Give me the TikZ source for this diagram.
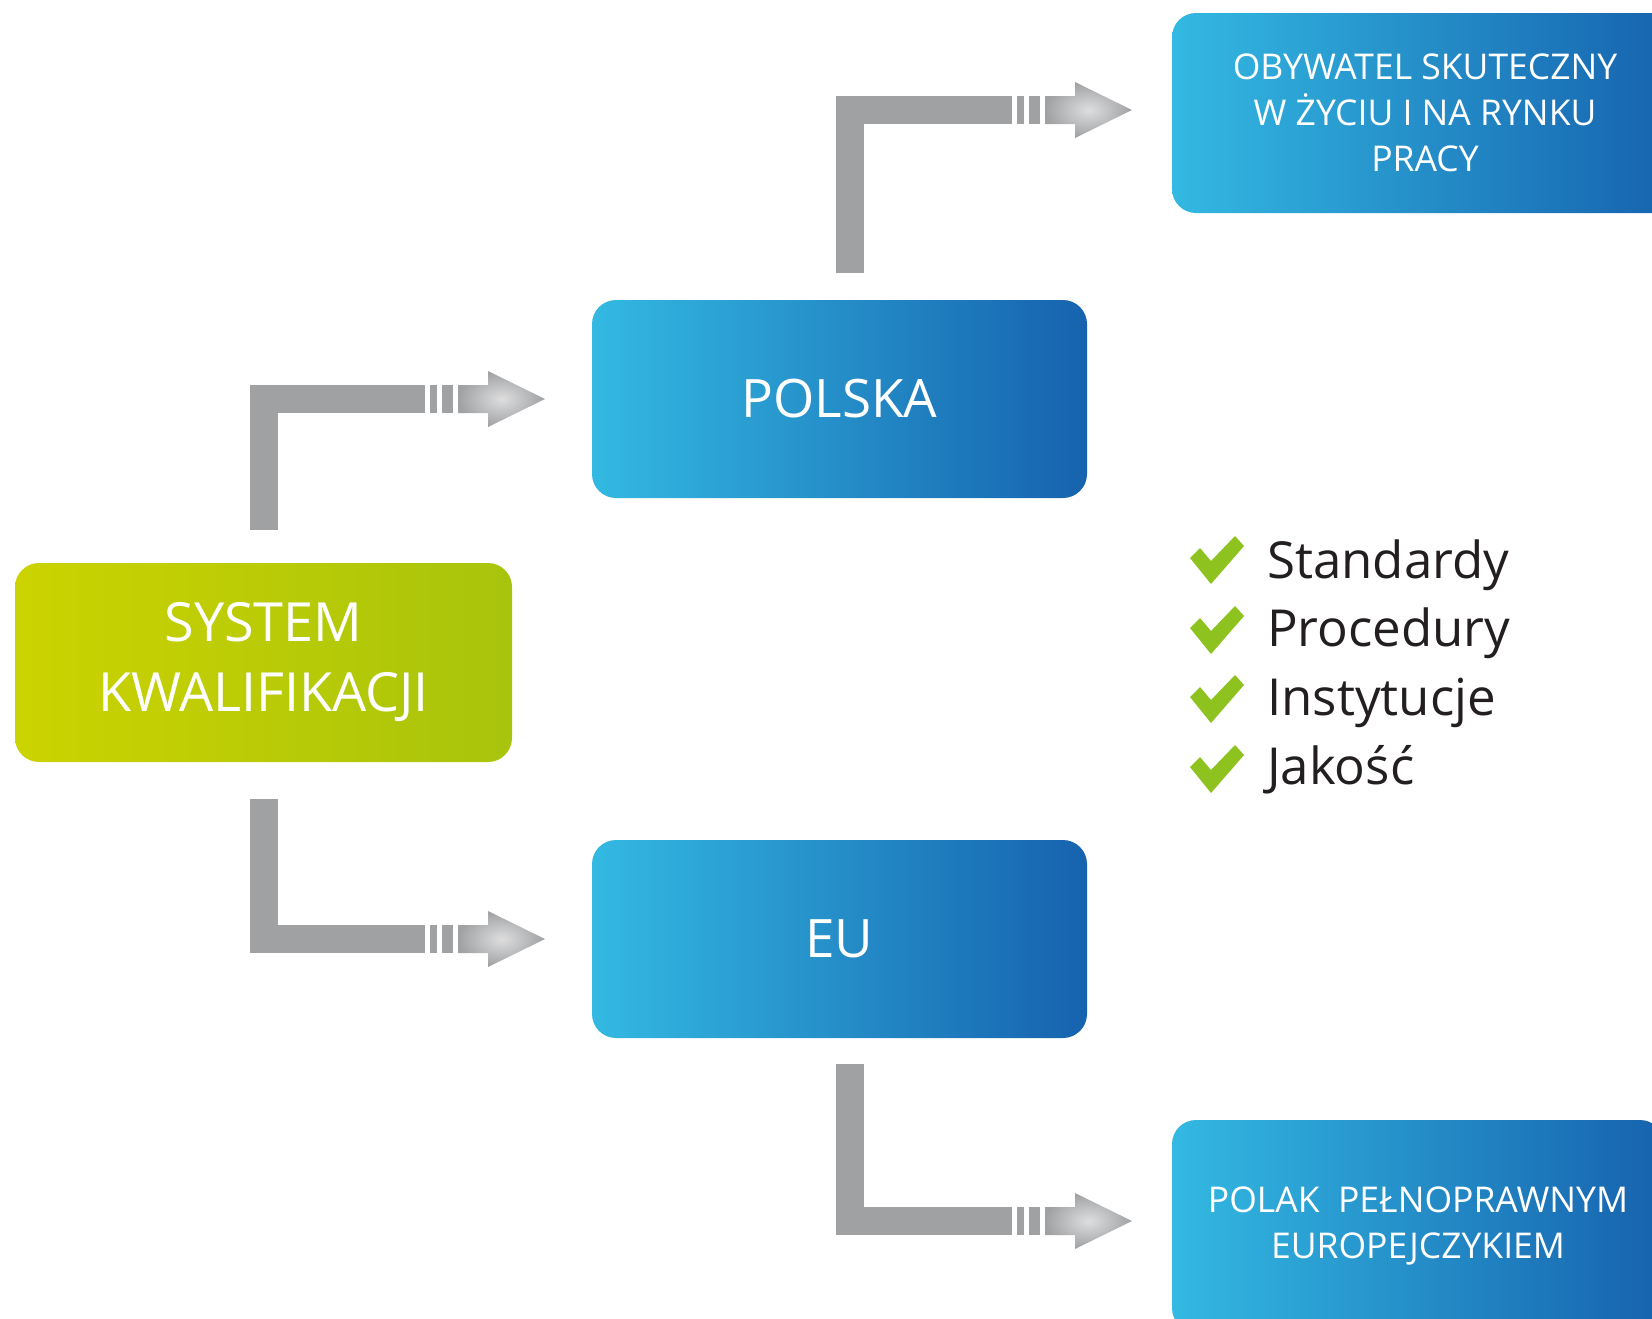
\documentclass[tikz,border=0pt]{standalone}
\usepackage{fontspec}
\setmainfont{Open Sans}

\definecolor{boxlight}{HTML}{33B9E2}
\definecolor{boxdark}{HTML}{1662AE}
\definecolor{syslight}{HTML}{CCD300}
\definecolor{sysdark}{HTML}{A8C40C}
\definecolor{bargrey}{HTML}{A0A1A3}
\definecolor{tickgreen}{HTML}{8DC21F}
\definecolor{listtext}{HTML}{231F20}

\begin{document}
\begin{tikzpicture}[
    x=1pt, y=-1pt,
    box/.style={
        rectangle, rounded corners=24pt, inner sep=0pt, outer sep=0pt,
        minimum width=495pt, minimum height=198pt, align=center,
        text=white, left color=boxlight, right color=boxdark,
        font=\fontsize{53}{68}\selectfont
    },
    sysbox/.style={
        box, minimum width=497pt, minimum height=199pt,
        left color=syslight, right color=sysdark,
        font=\fontsize{54}{70}\selectfont
    },
    goal/.style={
        box, font=\fontsize{35.5}{46}\selectfont
    },
    item/.style={
        anchor=base west, inner sep=0pt, text=listtext,
        font=\fontsize{51}{60}\selectfont
    },
    bar/.style={line width=28pt, bargrey},
    cuts/.style={line width=28pt, bargrey, dash pattern=on 7pt off 5pt on 11pt off 5pt},
    head/.style={inner color=bargrey!35, outer color=bargrey},
    tick/.style={fill=tickgreen}
]
\useasboundingbox (0,0) rectangle (1652,1318);

% --- Boxes ---
\node[sysbox] (sys) at (263.5,662.5) {SYSTEM\\KWALIFIKACJI};
\node[box] (polska) at (839.5,399) {POLSKA};
\node[box] (eu) at (839.5,939) {EU};
\node[goal, minimum width=506pt, minimum height=200pt] (oby) at (1425,113) {OBYWATEL SKUTECZNY\\W ŻYCIU I NA RYNKU\\PRACY};
\node[goal, minimum width=492pt, minimum height=212pt] (polak) at (1418,1226) {POLAK\ \ PEŁNOPRAWNYM\\EUROPEJCZYKIEM};

% --- Checklist ---
\node[item] (std) at (1267,578) {Standardy};
\node[item] (proc) at (1267,646) {Procedury};
\node[item] (inst) at (1267,715) {Instytucje};
\node[item] (jak) at (1267,784) {Jakość};

\fill[tick, shift={(1190,534)}] (0,24) -- (10,14) -- (21,27) -- (45,2) -- (54,12) -- (21,50) -- cycle;
\fill[tick, shift={(1190,604)}] (0,24) -- (10,14) -- (21,27) -- (45,2) -- (54,12) -- (21,50) -- cycle;
\fill[tick, shift={(1190,673)}] (0,24) -- (10,14) -- (21,27) -- (45,2) -- (54,12) -- (21,50) -- cycle;
\fill[tick, shift={(1190,743)}] (0,24) -- (10,14) -- (21,27) -- (45,2) -- (54,12) -- (21,50) -- cycle;

% --- Arrows ---
\coordinate (s1) at ([yshift=33pt]sys.north);
\coordinate (t1) at ([xshift=-47pt]polska.west);
\draw[bar] (s1) |- ([xshift=-120pt]t1);
\draw[cuts] ([xshift=-115pt]t1) -- ([xshift=-92pt]t1);
\shade[head] ([xshift=-87pt]t1) ++(0,-14) -- ++(30,0) -- ++(0,-14) -- (t1) -- ++(-57,28) -- ++(0,-14) -- ++(-30,0) -- cycle;

\coordinate (s2) at ([yshift=-37pt]sys.south);
\coordinate (t2) at ([xshift=-47pt]eu.west);
\draw[bar] (s2) |- ([xshift=-120pt]t2);
\draw[cuts] ([xshift=-115pt]t2) -- ([xshift=-92pt]t2);
\shade[head] ([xshift=-87pt]t2) ++(0,-14) -- ++(30,0) -- ++(0,-14) -- (t2) -- ++(-57,28) -- ++(0,-14) -- ++(-30,0) -- cycle;

\coordinate (s3) at ([xshift=10pt, yshift=27pt]polska.north);
\coordinate (t3) at ([xshift=-40pt, yshift=3pt]oby.west);
\draw[bar] (s3) |- ([xshift=-120pt]t3);
\draw[cuts] ([xshift=-115pt]t3) -- ([xshift=-92pt]t3);
\shade[head] ([xshift=-87pt]t3) ++(0,-14) -- ++(30,0) -- ++(0,-14) -- (t3) -- ++(-57,28) -- ++(0,-14) -- ++(-30,0) -- cycle;

\coordinate (s4) at ([xshift=10pt, yshift=-26pt]eu.south);
\coordinate (t4) at ([xshift=-40pt, yshift=5pt]polak.west);
\draw[bar] (s4) |- ([xshift=-120pt]t4);
\draw[cuts] ([xshift=-115pt]t4) -- ([xshift=-92pt]t4);
\shade[head] ([xshift=-87pt]t4) ++(0,-14) -- ++(30,0) -- ++(0,-14) -- (t4) -- ++(-57,28) -- ++(0,-14) -- ++(-30,0) -- cycle;

\end{tikzpicture}
\end{document}
